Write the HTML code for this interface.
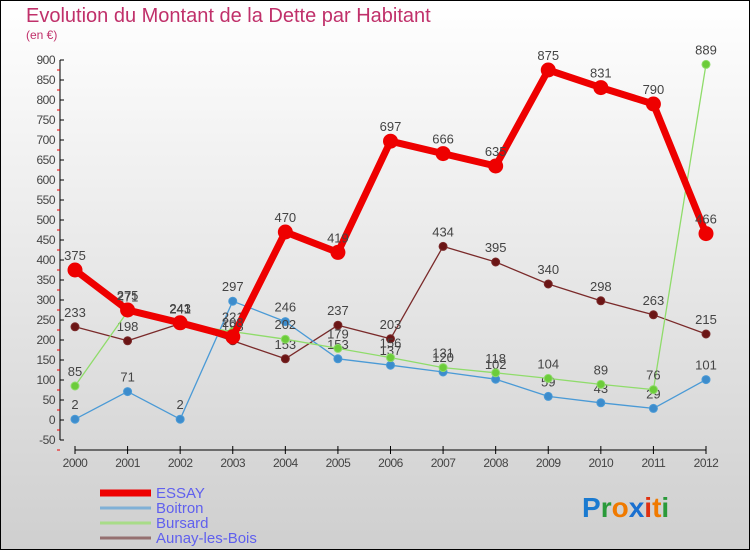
<!DOCTYPE html>
<html><head><meta charset="utf-8"><style>
html,body{margin:0;padding:0;}
body{width:750px;height:550px;overflow:hidden;font-family:"Liberation Sans",sans-serif;}
#wrap{position:absolute;left:0;top:0;width:748px;height:548px;border:1px solid #000;background:linear-gradient(#ffffff,#cfcfcf);}
</style></head><body>
<div id="wrap">
<svg id="chart" width="750" height="550" style="position:absolute;left:-1px;top:-1px"></svg>
</div>
<script>
const years=["2000","2001","2002","2003","2004","2005","2006","2007","2008","2009","2010","2011","2012"];
const essay=[375,275,243,208,470,419,697,666,635,875,831,790,466];
const boitron=[2,71,2,297,246,153,137,120,102,59,43,29,101];
const bursard=[85,271,241,221,202,179,156,131,118,104,89,76,889];
const aunay=[233,198,241,198,153,237,203,434,395,340,298,263,215];
const yTicks=[-50,0,50,100,150,200,250,300,350,400,450,500,550,600,650,700,750,800,850,900];
const NS="http://www.w3.org/2000/svg";
const svg=document.getElementById('chart');
function X(i){return 75+i*(706-75)/12;}
function Y(v){return 420-v*0.4;}
function mk(t,a,p){const e=document.createElementNS(NS,t);for(const k in a)e.setAttribute(k,a[k]);(p||svg).appendChild(e);return e;}
let t=mk('text',{x:26,y:22,'font-size':20,fill:'#c0306a','font-family':'Liberation Sans, sans-serif'});t.textContent='Evolution du Montant de la Dette par Habitant';


t=mk('text',{x:26,y:39,'font-size':12,fill:'#c0306a'});t.textContent='(en €)';


let ya=mk('line',{x1:60,y1:60,x2:60,y2:440,stroke:'#000','stroke-width':1});


yTicks.forEach(v=>{
 mk('line',{x1:60,y1:Y(v),x2:64,y2:Y(v),stroke:'#000'});
 mk('line',{x1:57,y1:Y(v)+10,x2:60,y2:Y(v)+10,stroke:'#e00'});
 const l=mk('text',{x:55,y:Y(v)+4,'font-size':12,fill:'#444','text-anchor':'end','letter-spacing':'-0.5'});l.textContent=v;
 
 
});
let xa=mk('line',{x1:75,y1:450,x2:706,y2:450,stroke:'#000'});


years.forEach((y,i)=>{
 mk('line',{x1:X(i),y1:446,x2:X(i),y2:454,stroke:'#000'});
 const l=mk('text',{x:X(i),y:467,'font-size':12,fill:'#444','text-anchor':'middle','letter-spacing':'-0.5'});l.textContent=y;
 
 
});
function series(name,data,color,w,r,ptFill){
 const g=mk('g',{});
 
 
 mk('polyline',{points:data.map((v,i)=>X(i)+','+Y(v)).join(' '),fill:'none',stroke:color,'stroke-width':w,'stroke-linejoin':'round'},g);
 data.forEach((v,i)=>{
  const c=mk('circle',{cx:X(i),cy:Y(v),r:r,fill:ptFill,stroke:color,'stroke-width':1},g);
  
  
  const l=mk('text',{x:X(i),y:Y(v)-10,'font-size':13,fill:'#444','text-anchor':'middle'},g);l.textContent=v;
  
  
 });
}
series('aunay',aunay,'#7a2a2a',1.3,4,'#6b1515');
series('boitron',boitron,'#4a9ad6',1.3,4,'#3d8ccc');
series('bursard',bursard,'#8fdc6a',1.3,4,'#6ccc3a');
series('essay',essay,'#ee0000',7,7,'#ee0000');
const leg=[['ESSAY','#ee0000',7],['Boitron','#7fb0d6',3],['Bursard','#a8dc88',3],['Aunay-les-Bois','#957070',3]];
leg.forEach((d,i)=>{
 const g=mk('g',{});
 
 
 const y=492+i*15;
 mk('line',{x1:100,y1:y+1,x2:151,y2:y+1,stroke:d[1],'stroke-width':d[2]},g);
 const l=mk('text',{x:156,y:y+6,'font-size':15,fill:'#6060ee'},g);l.textContent=d[0];
});
const lg=mk('text',{x:582,y:517,'font-size':28,'font-weight':'bold','font-family':'Liberation Sans, sans-serif'});


[['P','#1a7ad0'],['r','#2a9a3a'],['o','#f07a00'],['x','#1a70d0'],['i','#e03010'],['t','#f07a00'],['i','#2a9a3a']].forEach(c=>{const s=mk('tspan',{fill:c[1]},lg);s.textContent=c[0];});
</script>
</body></html>
